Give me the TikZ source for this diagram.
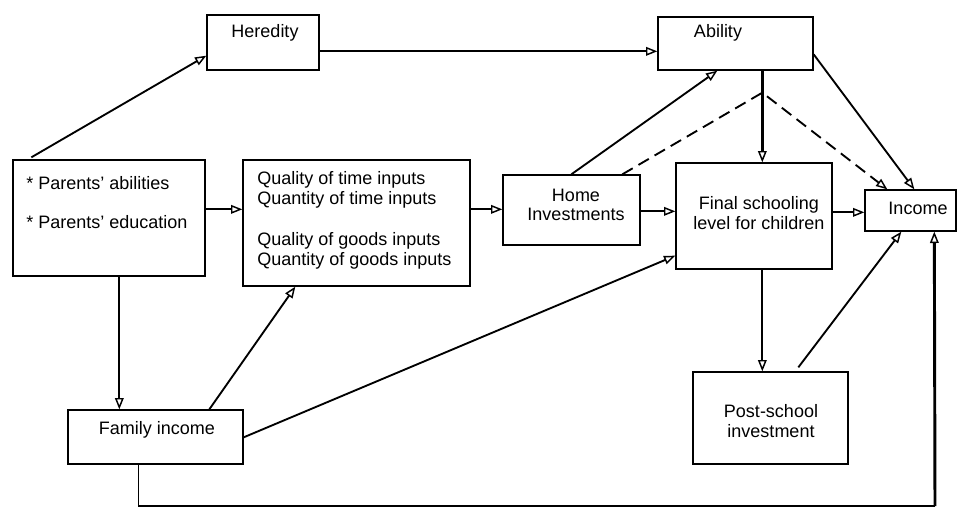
\documentclass[tikz,border=0pt]{standalone}
\usepackage{fontspec}
\setmainfont{Liberation Sans}
\usetikzlibrary{arrows.meta,fit,calc}
\begin{document}
\begin{tikzpicture}[x=0.75pt,y=-0.75pt,
  box/.style={draw, line width=1pt, inner sep=0pt},
  txt/.style={font=\fontsize{13.5}{14.5}\selectfont, inner sep=0pt},
  tip/.style={-{Triangle[open,length=8.5pt,width=6.5pt,line width=1.1pt]}},
  arr/.style={line width=1.4pt, tip},
  thickarr/.style={line width=2.2pt, tip},
  dasharr/.style={line width=1.4pt, dash pattern=on 9pt off 5pt, tip},
  plain/.style={line width=1pt}]
\useasboundingbox (0,0) rectangle (958,508);

% boxes
\node[box, fit={(207,15) (319,70)}] (her) {};
\node[box, fit={(658,17) (813,70)}] (abl) {};
\node[box, fit={(13,160) (205,276)}] (par) {};
\node[box, fit={(243,160) (470,286)}] (qual) {};
\node[box, fit={(503,175) (640,245)}] (home) {};
\node[box, fit={(676,163) (832,269)}] (fin) {};
\node[box, fit={(865,190) (956,231)}] (inc) {};
\node[box, fit={(68,410) (243,464)}] (fam) {};
\node[box, fit={(693,372) (848,464)}] (post) {};

% texts
\node[txt] (tHer) at (265,33) {Heredity};
\node[txt] (tAbl) at (718,33) {Ability};
\node[txt, anchor=west] (tPa) at (26,183) {* Parents' abilities};
\node[txt, anchor=west] (tPb) at (26,222) {* Parents' education};
\node[txt, anchor=west, align=left] (tQa) at (257,190) {Quality of time inputs\\Quantity of time inputs};
\node[txt, anchor=west, align=left] (tQb) at (257,251) {Quality of goods inputs\\Quantity of goods inputs};
\node[txt, align=center] (tHome) at (576,205) {Home\\Investments};
\node[txt, align=center] (tFin) at (759,213) {Final schooling\\level for children};
\node[txt] (tInc) at (918,208) {Income};
\node[txt] (tFam) at (157,430) {Family income};
\node[txt, align=center] (tPost) at (771,421) {Post-school\\investment};

% connectors
\draw[arr] ($(par.north west)+(19,-2)$) -- ($(her.south west)+(0,-15)$);
\draw[arr] ($(her.north east)+(0,37)$) -- ($(abl.north west)+(0,35)$);
\draw[arr] ($(par.north east)+(0,50)$) -- ($(qual.north west)+(0,50)$);
\draw[arr] ($(qual.north east)+(0,50)$) -- ($(home.north west)+(0,35)$);
\draw[arr] ($(home.north east)+(0,37)$) -- ($(fin.north west)+(0,49)$);
\draw[arr] ($(fin.north east)+(0,50)$) -- ($(inc.north west)+(0,23)$);
\draw[arr] ($(home.north west)+(69,0)$) -- ($(abl.south west)+(60,0)$);
\coordinate (dj) at ($(abl.south west)+(105,22)$);
\draw[dasharr] ($(home.north west)+(120,0)$) -- (dj) -- ($(inc.north west)+(23,0)$);
\draw[thickarr] ($(abl.south west)+(105,0)$) -- ($(fin.north west)+(87,0)$);
\draw[arr] ($(abl.north east)+(0,38)$) -- ($(inc.north west)+(50,0)$);
\draw[arr] ($(fin.south west)+(87,0)$) -- ($(post.north west)+(70,0)$);
\draw[arr] ($(post.north west)+(106,-4)$) -- ($(inc.south west)+(37,0)$);
\draw[arr] ($(par.south west)+(107,0)$) -- ($(fam.north west)+(52,0)$);
\draw[arr] ($(fam.north west)+(142,0)$) -- ($(qual.south west)+(53,0)$);
\draw[arr] ($(fam.north east)+(0,28)$) -- ($(fin.south west)+(0,-14)$);
\coordinate (c2) at (935,506);
\draw[plain] ($(fam.south west)+(71,0)$) |- (c2);
\draw[thickarr] (c2) -- ($(inc.south west)+(70,0)$);
\end{tikzpicture}
\end{document}
